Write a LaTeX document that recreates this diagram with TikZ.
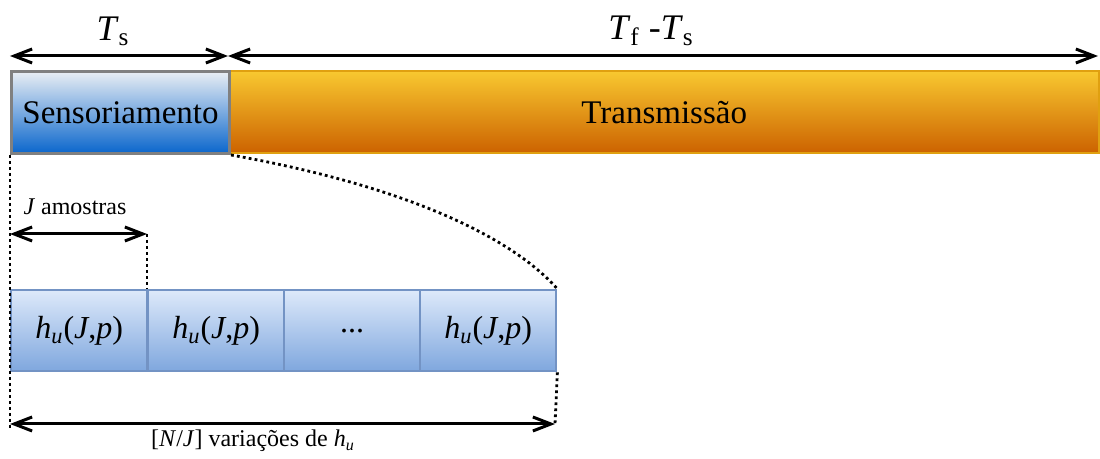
\documentclass[tikz,border=0pt]{standalone}
\usepackage{fontspec}
\setmainfont{Liberation Serif}
\usepackage{tikz}
\usetikzlibrary{arrows.meta}

\definecolor{sensTop}{HTML}{E9EEF4}
\definecolor{sensBot}{HTML}{0A66CC}
\definecolor{txTop}{HTML}{F8C830}
\definecolor{txBot}{HTML}{CC6200}
\definecolor{txLine}{HTML}{E0A010}
\definecolor{blkTop}{HTML}{DDE9FA}
\definecolor{blkBot}{HTML}{7FA7DE}
\definecolor{blkLine}{HTML}{7393C4}

\newcommand{\hu}{\textit{h}\textsubscript{\textit{u}}}

\tikzset{
  dimarrow/.style={line width=1.5pt, {Straight Barb[length=9pt,width=7pt]}-{Straight Barb[length=9pt,width=7pt]}},
  dotline/.style={line width=1.4pt, dash pattern=on 1.4pt off 1.6pt},
  sensbox/.style={draw=gray, line width=1.5pt, top color=sensTop, bottom color=sensBot,
    minimum width=109pt, minimum height=41pt, inner sep=0pt, anchor=north west,
    font=\fontsize{16.5}{19}\selectfont},
  txbox/.style={draw=txLine, line width=1.2pt, top color=txTop, bottom color=txBot,
    minimum width=435pt, minimum height=41pt, inner sep=0pt, anchor=north west,
    font=\fontsize{16.5}{19}\selectfont},
  blkbox/.style={draw=blkLine, line width=1.2pt, top color=blkTop, bottom color=blkBot,
    minimum width=68pt, minimum height=40.5pt, inner sep=0pt, anchor=north west,
    font=\fontsize{16}{19}\selectfont}
}

\begin{document}
\begin{tikzpicture}[x=0.5pt, y=-0.5pt]

\useasboundingbox (0,0) rectangle (1100,459);

% trama
\node[txbox] (tx) at (228,70) {Transmiss\~ao};
\node[sensbox] (sens) at (10,70) {Sensoriamento};

% blocos
\node[blkbox] (b1) at (10,289)  {\hu(\textit{J},\textit{p})};
\node[blkbox] (b2) at (147,289) {\hu(\textit{J},\textit{p})};
\node[blkbox] (b3) at (283,289) {...};
\node[blkbox] (b4) at (419,289) {\hu(\textit{J},\textit{p})};

% cotas
\coordinate (ts0) at (10,56);
\coordinate (ts1) at (228,56);
\coordinate (tf1) at (1098,56);
\coordinate (ja0) at (10,234);
\coordinate (ja1) at (147,234);
\coordinate (nj0) at (10,424);
\coordinate (nj1) at (555,424);
\coordinate (lowL) at (10,430);

\draw[dimarrow] (ts0) -- (ts1);
\draw[dimarrow] (ts1) -- (tf1);
\draw[dimarrow] (ja0) -- (ja1);
\draw[dimarrow] (nj0) -- (nj1);

\draw[dotline] (sens.south west) -- (lowL);
\draw[dotline] (ja1) -- (b2.north west);
\draw[dotline] (b4.south east) -- (nj1);
\draw[dotline] (sens.south east) .. controls (400,185) and (510,235) .. (b4.north east);

\node[font=\fontsize{18}{21}\selectfont] (lts) at (113,31) {\textit{T}\textsubscript{s}};
\node[font=\fontsize{18}{21}\selectfont] (ltf) at (651,31) {\textit{T}\textsubscript{f} -\textit{T}\textsubscript{s}};
\node[font=\fontsize{12}{14}\selectfont] (lja) at (75,207) {\textit{J} amostras};
\node[font=\fontsize{12}{14}\selectfont] (lnj) at (253,441) {[\textit{N}/\textit{J}] varia\c{c}\~oes de \hu};

\end{tikzpicture}
\end{document}
